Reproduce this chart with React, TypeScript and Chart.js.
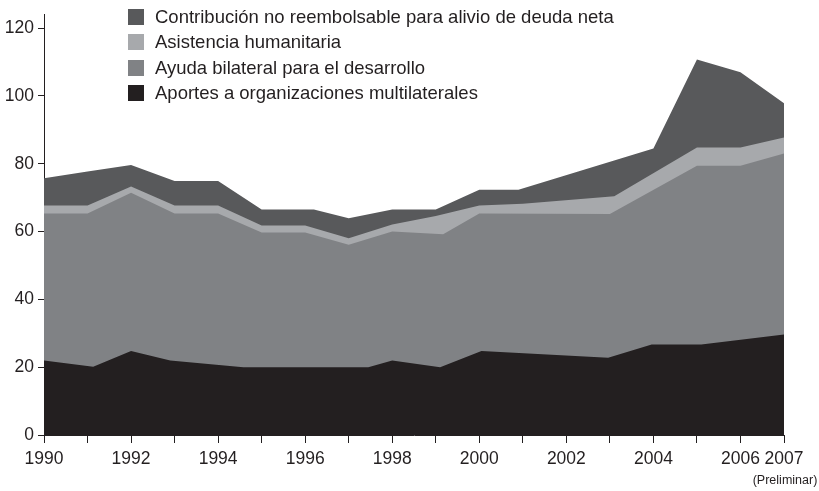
import React, { useEffect, useRef } from "react";
import { Chart, registerables } from "chart.js";

Chart.register(...registerables);

// Year ticks on the x axis
const yearTicks = [1990, 1991, 1992, 1993, 1994, 1995, 1996, 1997, 1998, 1999, 2000, 2001, 2002, 2003, 2004, 2005, 2006, 2007];
const yTicks = [0, 20, 40, 60, 80, 100, 120];

// Upper boundary of each stacked layer (cumulative)
// Aportes a organizaciones multilaterales
const multiX = [1990, 1991.13, 1992, 1992.9, 1994.58, 1997.45, 1998, 1999.1, 2000.05, 2002.96, 2003.96, 2005.1, 2007];
const multiY = [22.0, 20.1, 24.8, 22.0, 20.0, 20.0, 22.0, 20.0, 24.8, 22.8, 26.7, 26.7, 29.6];
// + Ayuda bilateral para el desarrollo
const bilatX = [1990, 1991, 1992, 1993, 1994, 1995, 1996, 1997, 1998, 1999.17, 2000, 2003, 2005, 2006, 2007];
const bilatY = [65.3, 65.3, 71.4, 65.3, 65.3, 59.7, 59.7, 56.1, 60.0, 59.2, 65.3, 65.2, 79.4, 79.4, 83.0];
// + Asistencia humanitaria
const humX = [1990, 1991, 1992, 1993, 1994, 1995, 1996, 1997, 1998, 1999, 2000, 2001, 2003.1, 2005, 2006, 2007];
const humY = [67.7, 67.7, 73.3, 67.7, 67.7, 61.8, 61.8, 58.0, 62.1, 64.6, 67.7, 68.2, 70.4, 84.8, 84.8, 87.7];
// + Contribución no reembolsable para alivio de deuda neta (total)
const debtX = [1990, 1991, 1992, 1993, 1994, 1995, 1996.2, 1997, 1998, 1999, 2000, 2000.9, 2004, 2005, 2006, 2007];
const debtY = [75.7, 77.7, 79.6, 74.9, 74.9, 66.5, 66.5, 63.9, 66.5, 66.5, 72.3, 72.3, 84.5, 110.7, 107.0, 97.8];

const seriesNames = [
  "Contribución no reembolsable para alivio de deuda neta",
  "Asistencia humanitaria",
  "Ayuda bilateral para el desarrollo",
  "Aportes a organizaciones multilaterales",
];
const seriesColors = ["#58595b", "#a7a9ac", "#808285", "#231f20"];

const FONT = "'Liberation Sans', Arial, Helvetica, sans-serif";
const TEXT = "#231f20";

const pts = (xs: number[], ys: number[]) => xs.map((x, i) => ({ x, y: ys[i] }));

const prelimPlugin = {
  id: "prelim",
  afterDraw(chart: any) {
    const { ctx, scales } = chart;
    const x = scales.x.getPixelForValue(2007);
    ctx.save();
    ctx.font = `12.5px ${FONT}`;
    ctx.fillStyle = TEXT;
    ctx.textAlign = "center";
    ctx.textBaseline = "alphabetic";
    ctx.fillText("(Preliminar)", x + 1, 484);
    ctx.restore();
  },
};

export default function App() {
  const ref = useRef<HTMLCanvasElement | null>(null);

  useEffect(() => {
    if (!ref.current) return;
    const mk = (label: string, color: string, xs: number[], ys: number[]) => ({
      label,
      data: pts(xs, ys),
      backgroundColor: color,
      borderColor: color,
      borderWidth: 0,
      pointRadius: 0,
      tension: 0,
      fill: "origin",
    });
    const chart = new Chart(ref.current, {
      type: "line",
      data: {
        datasets: [
          mk(seriesNames[3], seriesColors[3], multiX, multiY),
          mk(seriesNames[2], seriesColors[2], bilatX, bilatY),
          mk(seriesNames[1], seriesColors[1], humX, humY),
          mk(seriesNames[0], seriesColors[0], debtX, debtY),
        ] as any,
      },
      options: {
        animation: false,
        responsive: true,
        maintainAspectRatio: false,
        layout: { padding: { top: 9, right: 35, left: 0, bottom: 0 } },
        plugins: { legend: { display: false }, tooltip: { enabled: false } },
        elements: { line: { borderWidth: 0 } },
        scales: {
          x: {
            type: "linear",
            min: 1990,
            max: 2007,
            afterBuildTicks: (s: any) => {
              s.ticks = yearTicks.map((v) => ({ value: v }));
            },
            afterFit: (s: any) => {
              s.height = 56;
            },
            grid: { drawOnChartArea: false, drawTicks: true, tickLength: 8, color: TEXT, lineWidth: 1 },
            border: { display: true, color: TEXT, width: 1 },
            ticks: {
              autoSkip: false,
              maxRotation: 0,
              padding: 6,
              color: TEXT,
              font: { family: FONT, size: 17.5 },
              callback: (v: any) => (v % 2 === 0 || v === 2007 ? String(v) : ""),
            },
          },
          y: {
            min: 0,
            max: 124,
            afterBuildTicks: (s: any) => {
              s.ticks = yTicks.map((v) => ({ value: v }));
            },
            afterFit: (s: any) => {
              s.width = 44;
            },
            grid: { drawOnChartArea: false, drawTicks: true, tickLength: 6, color: TEXT, lineWidth: 1 },
            border: { display: true, color: TEXT, width: 1 },
            ticks: {
              padding: 4,
              color: TEXT,
              font: { family: FONT, size: 17.5 },
            },
          },
        },
      } as any,
      plugins: [prelimPlugin],
    });
    return () => chart.destroy();
  }, []);

  const legendTops = [9, 34, 60, 85];

  return (
    <div style={{ position: "absolute", left: 0, top: 0, width: 819, height: 491, background: "#fff" }}>
      <canvas ref={ref} />
      {seriesNames.map((name, i) => (
        <div
          key={name}
          style={{
            position: "absolute",
            left: 128,
            top: legendTops[i],
            height: 16,
            display: "flex",
            alignItems: "center",
            whiteSpace: "nowrap",
            fontFamily: FONT,
            fontSize: 18.5,
            color: TEXT,
          }}
        >
          <span style={{ display: "inline-block", width: 16, height: 16, background: seriesColors[i], marginRight: 11 }} />
          <span>{name}</span>
        </div>
      ))}
    </div>
  );
}
